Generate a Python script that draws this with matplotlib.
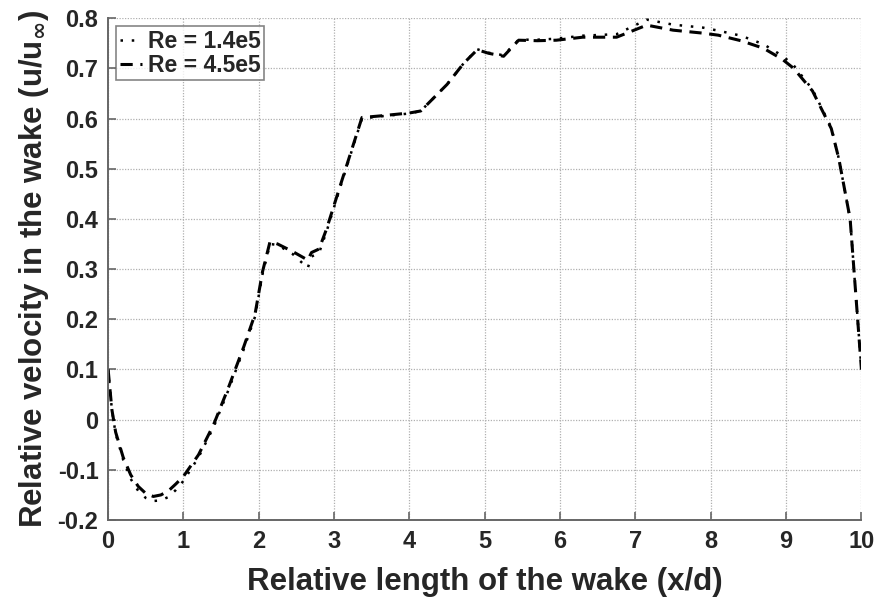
import matplotlib
matplotlib.use("Agg")
import matplotlib.pyplot as plt

plt.rcParams['font.family'] = ['Liberation Sans', 'DejaVu Sans']
plt.rcParams['font.weight'] = 'bold'
plt.rcParams['mathtext.default'] = 'bf'

# wake velocity profiles along the centreline
x_d = [0, 0.05, 0.1, 0.2, 0.3, 0.4, 0.5, 0.6, 0.7, 0.8, 0.9, 1.0, 1.2, 1.4,
       1.6, 1.8, 1.95, 2.05, 2.15, 2.25, 2.45, 2.65, 2.7, 2.8, 2.9, 3.1, 3.37,
       3.6, 4.0, 4.15, 4.5, 4.72, 4.9, 5.05, 5.25, 5.45, 5.7, 5.95, 6.3, 6.75,
       7.15, 7.5, 7.9, 8.1, 8.4, 8.7, 8.95, 9.1, 9.35, 9.6, 9.7, 9.85, 9.95, 10]

u_re_14e5 = [0.1, 0.02, -0.028, -0.08, -0.118, -0.142, -0.156, -0.162, -0.161,
             -0.154, -0.14, -0.122, -0.075, -0.015, 0.06, 0.14, 0.205, 0.29,
             0.35, 0.348, 0.33, 0.302, 0.325, 0.332, 0.375, 0.472, 0.6, 0.604,
             0.61, 0.615, 0.668, 0.71, 0.738, 0.731, 0.726, 0.757, 0.757, 0.759,
             0.765, 0.768, 0.797, 0.787, 0.781, 0.775, 0.765, 0.748, 0.725,
             0.706, 0.658, 0.582, 0.52, 0.4, 0.2, 0.1]

u_re_45e5 = [0.1, 0.02, -0.025, -0.075, -0.11, -0.133, -0.147, -0.153, -0.15,
             -0.142, -0.128, -0.113, -0.07, -0.01, 0.065, 0.145, 0.21, 0.295,
             0.355, 0.35, 0.335, 0.318, 0.333, 0.34, 0.38, 0.475, 0.602, 0.605,
             0.611, 0.615, 0.668, 0.71, 0.737, 0.73, 0.724, 0.756, 0.755, 0.756,
             0.762, 0.762, 0.786, 0.776, 0.77, 0.766, 0.755, 0.74, 0.718, 0.7,
             0.655, 0.58, 0.52, 0.4, 0.2, 0.1]

fig = plt.figure(figsize=(8.79, 6.04), dpi=100)
ax = fig.add_axes([0.123, 0.139, 0.857, 0.831])

ax.plot(x_d, u_re_14e5, color='black', linestyle=(0, (1, 3.5)), linewidth=1.8,
        label='Re = 1.4e5')
ax.plot(x_d, u_re_45e5, color='black', linestyle=(0, (4, 2.5)), linewidth=2.2,
        label='Re = 4.5e5')

ax.set_xlim(0, 10)
ax.set_ylim(-0.2, 0.8)
ax.set_xticks(range(0, 11))
ax.set_yticks([-0.2, -0.1, 0, 0.1, 0.2, 0.3, 0.4, 0.5, 0.6, 0.7, 0.8])
ax.set_yticklabels(['-0.2', '-0.1', '0', '0.1', '0.2', '0.3', '0.4', '0.5',
                    '0.6', '0.7', '0.8'])
ax.grid(True, color='#b0b0b0', linestyle=(0, (1, 1.2)), linewidth=0.9)

for side in ('top', 'right'):
    ax.spines[side].set_visible(False)
for side in ('left', 'bottom'):
    ax.spines[side].set_color('#666666')
    ax.spines[side].set_linewidth(1.4)
ax.tick_params(direction='in', length=6, width=1.2, color='#666666',
               labelsize=17, pad=7)
for lbl in ax.get_xticklabels() + ax.get_yticklabels():
    lbl.set_fontweight('bold')
    lbl.set_color('#262626')

ax.set_xlabel('Relative length of the wake (x/d)', fontsize=22.5,
              fontweight='bold', color='#262626', labelpad=10)
ax.set_ylabel(r'Relative velocity in the wake (u/u$_{\infty}$)', fontsize=22.5,
              fontweight='bold', color='#262626', labelpad=5)

leg = ax.legend(loc='upper left', fontsize=16.5, handlelength=1.0,
                handletextpad=0.25, borderpad=0.15, labelspacing=0.05,
                fancybox=False, borderaxespad=0.35)
leg.get_frame().set_edgecolor('#666666')
leg.get_frame().set_linewidth(1.2)
for t in leg.get_texts():
    t.set_fontweight('bold')
    t.set_color('#262626')

fig.savefig('out.png', dpi=100)
